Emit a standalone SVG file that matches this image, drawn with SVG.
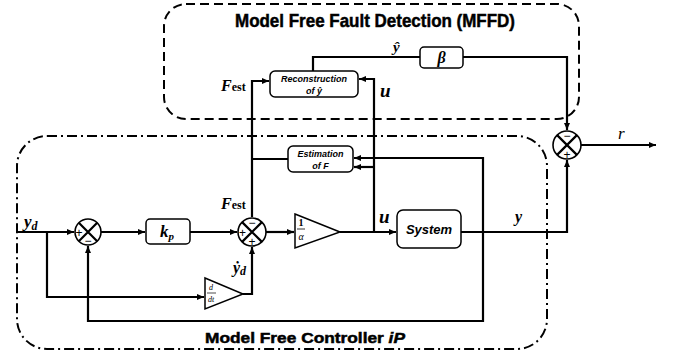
<svg xmlns="http://www.w3.org/2000/svg" width="679" height="358" viewBox="0 0 679 358">
<defs>
<marker id="ar" markerWidth="8" markerHeight="8" refX="7" refY="4" orient="auto" markerUnits="userSpaceOnUse">
<path d="M0,1 L7,4 L0,7 Z" fill="#000"/>
</marker>
<style>
.ln{fill:none;stroke:#000;stroke-width:2.2}
.bx{fill:#fff;stroke:#000;stroke-width:1.5}
.sum{fill:#fff;stroke:#000;stroke-width:1.6}
.title{font-family:"Liberation Sans",Arial,sans-serif;font-weight:bold;fill:#000;stroke:#000;stroke-width:0.5}
.blk{font-family:"Liberation Sans",Arial,sans-serif;font-weight:bold;font-style:italic;fill:#000}
.m{font-family:"Liberation Serif","Times New Roman",serif;font-weight:bold;font-style:italic;fill:#000}
.sg{font-family:"Liberation Sans",Arial,sans-serif;font-size:12px;fill:#000}
</style>
</defs>
<rect width="679" height="358" fill="#fff"/>

<!-- boundary regions -->
<g id="mffd-region">
<rect x="164" y="4" width="415" height="115" rx="22" ry="22" fill="none" stroke="#000" stroke-width="2" stroke-dasharray="9,5"/>
<text class="title" x="235" y="27" font-size="19" textLength="280" lengthAdjust="spacingAndGlyphs">Model Free Fault Detection (MFFD)</text>
</g>
<g id="controller-region">
<rect x="17" y="136" width="530" height="213" rx="30" ry="30" fill="none" stroke="#000" stroke-width="2" stroke-dasharray="10,4,2,4"/>
<text class="title" x="205" y="343" font-size="15" textLength="200" lengthAdjust="spacingAndGlyphs">Model Free Controller <tspan font-style="italic">iP</tspan></text>
</g>

<!-- connectors -->
<g id="connectors">
<path class="ln" d="M17,232 H74" marker-end="url(#ar)"/>
<path class="ln" d="M101,232 H145" marker-end="url(#ar)"/>
<path class="ln" d="M190,232 H237" marker-end="url(#ar)"/>
<path class="ln" d="M266,232 H294" marker-end="url(#ar)"/>
<path class="ln" d="M340,232 H396" marker-end="url(#ar)"/>
<path class="ln" d="M461,232 H567 V160" marker-end="url(#ar)"/>
<path class="ln" d="M581,145 H656" marker-end="url(#ar)"/>
<path class="ln" d="M47,232 V297 H204" marker-end="url(#ar)"/>
<path class="ln" d="M243,294 H252 V247" marker-end="url(#ar)"/>
<path class="ln" d="M483,232 V321 H88 V246" marker-end="url(#ar)"/>
<path class="ln" d="M483,232 V158 H354" marker-end="url(#ar)"/>
<path class="ln" d="M374,167 H354" marker-end="url(#ar)"/>
<path class="ln" d="M374,232 V79 H359" marker-end="url(#ar)"/>
<path class="ln" d="M288,159 H252"/>
<path class="ln" d="M252,217 V81 H269" marker-end="url(#ar)"/>
<path class="ln" d="M313,71 V57 H420"/>
<path class="ln" d="M463,57 H567 V130" marker-end="url(#ar)"/>
</g>

<!-- nodes -->
<g id="sum1">
<circle class="sum" cx="88" cy="232" r="13"/>
<path class="ln" stroke-width="1.3" d="M78.8,222.8 L97.2,241.2 M97.2,222.8 L78.8,241.2"/>
<text class="sg" x="79" y="236.5" text-anchor="middle">+</text>
<text class="sg" x="88" y="244.5" text-anchor="middle">−</text>
</g>
<g id="kp">
<rect class="bx" x="146" y="219" width="44" height="25" rx="4"/>
<text class="m" x="160" y="237" font-size="17">k<tspan font-size="11" dy="3">p</tspan></text>
</g>
<g id="sum2">
<circle class="sum" cx="252" cy="232" r="14"/>
<path class="ln" stroke-width="1.3" d="M242.1,222.1 L261.9,241.9 M261.9,222.1 L242.1,241.9"/>
<text class="sg" x="252" y="227" text-anchor="middle">−</text>
<text class="sg" x="242.5" y="236.5" text-anchor="middle">+</text>
<text class="sg" x="252" y="246" text-anchor="middle">+</text>
</g>
<g id="gain">
<path class="bx" d="M295,214 L340,232 L295,248 Z"/>
<text x="301" y="226" font-family="Liberation Serif,serif" font-weight="bold" font-size="10" text-anchor="middle">1</text>
<line x1="297" y1="229" x2="305" y2="229" stroke="#000" stroke-width="0.8"/>
<text x="301" y="240" font-family="Liberation Serif,serif" font-style="italic" font-size="10" text-anchor="middle">α</text>
</g>
<g id="system">
<rect class="bx" x="397" y="210" width="64" height="38" rx="6"/>
<text class="blk" x="429" y="234" font-size="13" text-anchor="middle">System</text>
</g>
<g id="deriv">
<path class="bx" d="M205,278 L243,294 L205,309 Z"/>
<text x="211" y="290" font-family="Liberation Serif,serif" font-style="italic" font-size="8" text-anchor="middle">d</text>
<line x1="207" y1="293" x2="216" y2="293" stroke="#000" stroke-width="0.7"/>
<text x="211" y="302" font-family="Liberation Serif,serif" font-style="italic" font-size="8" text-anchor="middle">dt</text>
</g>
<g id="estimation">
<rect class="bx" x="288" y="146" width="65" height="26" rx="5"/>
<text class="blk" x="320.5" y="157" font-size="9" text-anchor="middle">Estimation</text>
<text class="blk" x="320.5" y="169" font-size="9" text-anchor="middle">of F</text>
</g>
<g id="reconstruction">
<rect class="bx" x="270" y="71" width="88" height="26" rx="5"/>
<text class="blk" x="314" y="82" font-size="9" text-anchor="middle">Reconstruction</text>
<text class="blk" x="314" y="94" font-size="9" text-anchor="middle">of ŷ</text>
</g>
<g id="beta">
<rect class="bx" x="420" y="47" width="43" height="21" rx="4"/>
<text class="m" x="441.5" y="63" font-size="16" text-anchor="middle">β</text>
</g>
<g id="sum3">
<circle class="sum" cx="567" cy="145" r="14"/>
<path class="ln" stroke-width="1.3" d="M557.1,135.1 L576.9,154.9 M576.9,135.1 L557.1,154.9"/>
<text class="sg" x="567" y="140" text-anchor="middle">−</text>
<text class="sg" x="567" y="159" text-anchor="middle">+</text>
</g>

<!-- labels -->
<g id="labels">
<text class="m" x="24" y="227" font-size="17">y<tspan font-size="12" dy="3">d</tspan></text>
<text class="m" x="221" y="209" font-size="16">F<tspan font-size="12" font-style="normal">est</tspan></text>
<text class="m" x="221" y="91" font-size="16">F<tspan font-size="12" font-style="normal">est</tspan></text>
<text class="m" x="379" y="223" font-size="19">u</text>
<text class="m" x="380" y="97" font-size="19">u</text>
<text class="m" x="515" y="222" font-size="16">y</text>
<text class="m" x="393" y="52" font-size="15">ŷ</text>
<text x="618" y="139" font-family="Liberation Serif,serif" font-style="italic" font-size="17">r</text>
<text class="m" x="233" y="273" font-size="16">ẏ<tspan font-size="12" dy="2">d</tspan></text>
</g>
</svg>
